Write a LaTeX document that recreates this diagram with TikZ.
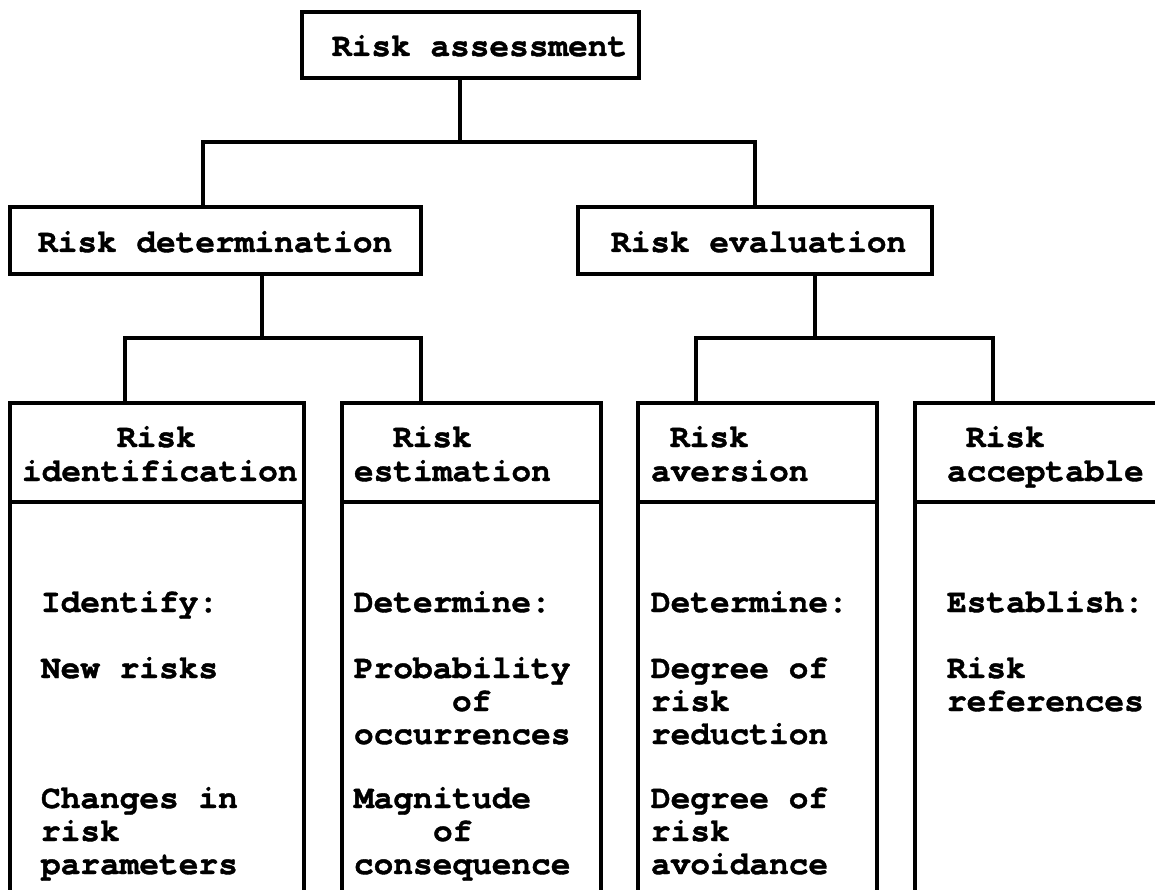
\documentclass[tikz,border=0pt]{standalone}
\usepackage{fontspec}
\newfontfamily\diagfont{texgyrecursor}[Extension=.otf, UprightFont=*-regular,
  BoldFont=*-bold, BoldFeatures={FakeBold=1.2}, Ligatures={NoCommon}]
\tikzset{
  frame/.style={draw, line width=3.5pt, inner sep=0pt, outer sep=0pt, anchor=north west},
  rule/.style={line width=3.5pt},
  link/.style={line width=3.2pt},
  lbl/.style={anchor=base west, inner sep=0pt, outer sep=0pt,
              font=\diagfont\bfseries\fontsize{32.8}{33}\selectfont},
}
\begin{document}
\begin{tikzpicture}[x=1pt,y=-1pt]
\useasboundingbox (0,0) rectangle (1155,890);
\clip (0,0) rectangle (1155,890);

% ---------- boxes ----------
\node[frame, minimum width=337pt, minimum height=66pt] (top) at (302,12) {};
\node[frame, minimum width=411pt, minimum height=67pt] (det) at (10,207) {};
\node[frame, minimum width=354pt, minimum height=67pt] (eva) at (578,207) {};

\node[frame, minimum width=294pt, minimum height=99pt] (c1) at (10,403) {};
\node[frame, minimum width=259pt, minimum height=99pt] (c2) at (342,403) {};
\node[frame, minimum width=239pt, minimum height=99pt] (c3) at (638,403) {};
\node[frame, minimum width=260pt, minimum height=99pt] (c4) at (915,403) {};

% open columns running down past the lower edge
\coordinate (bot) at (0,900);
\foreach \c in {c1,c2,c3,c4}{
  \draw[rule] (\c.south west) -- (\c.south west |- bot);
  \draw[rule] (\c.south east) -- (\c.south east |- bot);
}

% ---------- connectors ----------
\coordinate (hub0) at (460,142);
\coordinate (hubL) at (203,142);
\coordinate (hubR) at (755,142);
\draw[link] (top.south -| hub0) -- (hub0);
\draw[link] (det.north -| hubL) |- (hubR) -- (eva.north -| hubR);

\coordinate (hub1) at (262,338);
\coordinate (hub1L) at (125,338);
\coordinate (hub1R) at (421,338);
\draw[link] (det.south -| hub1) -- (hub1);
\draw[link] (c1.north -| hub1L) |- (hub1R) -- (c2.north -| hub1R);

\coordinate (hub2) at (815,338);
\coordinate (hub2L) at (696,338);
\coordinate (hub2R) at (993,338);
\draw[link] (eva.south -| hub2) -- (hub2);
\draw[link] (c3.north -| hub2L) |- (hub2R) -- (c4.north -| hub2R);

% ---------- labels ----------
\node[lbl] (ttop) at (332,56) {Risk assessment};
\node[lbl] (tdet) at (38,252) {Risk determination};
\node[lbl] (teva) at (611,252) {Risk evaluation};

\node[lbl] (h1a) at (117,447) {Risk};
\node[lbl] (h1b) at (22,481) {identification};
\node[lbl] (h2a) at (393,447) {Risk};
\node[lbl] (h2b) at (354,481) {estimation};
\node[lbl] (h3a) at (670,447) {Risk};
\node[lbl] (h3b) at (651,481) {aversion};
\node[lbl] (h4a) at (966,447) {Risk};
\node[lbl] (h4b) at (947,481) {acceptable};

% column 1
\node[lbl] (b1a) at (41,612) {Identify:};
\node[lbl] (b1b) at (41,678) {New risks};
\node[lbl] (b1c) at (41,808) {Changes in};
\node[lbl] (b1d) at (41,841) {risk};
\node[lbl] (b1e) at (41,874) {parameters};

% column 2
\node[lbl] (b2a) at (354,612) {Determine:};
\node[lbl] (b2b) at (354,678) {Probability};
\node[lbl] (b2c) at (452,711) {of};
\node[lbl] (b2d) at (354,744) {occurrences};
\node[lbl] (b2e) at (354,808) {Magnitude};
\node[lbl] (b2f) at (433,841) {of};
\node[lbl] (b2g) at (354,874) {consequence};

% column 3
\node[lbl] (b3a) at (651,612) {Determine:};
\node[lbl] (b3b) at (651,678) {Degree of};
\node[lbl] (b3c) at (651,711) {risk};
\node[lbl] (b3d) at (651,744) {reduction};
\node[lbl] (b3e) at (651,808) {Degree of};
\node[lbl] (b3f) at (651,841) {risk};
\node[lbl] (b3g) at (651,874) {avoidance};

% column 4
\node[lbl] (b4a) at (947,612) {Establish:};
\node[lbl] (b4b) at (947,678) {Risk};
\node[lbl] (b4c) at (947,711) {references};
\end{tikzpicture}
\end{document}
